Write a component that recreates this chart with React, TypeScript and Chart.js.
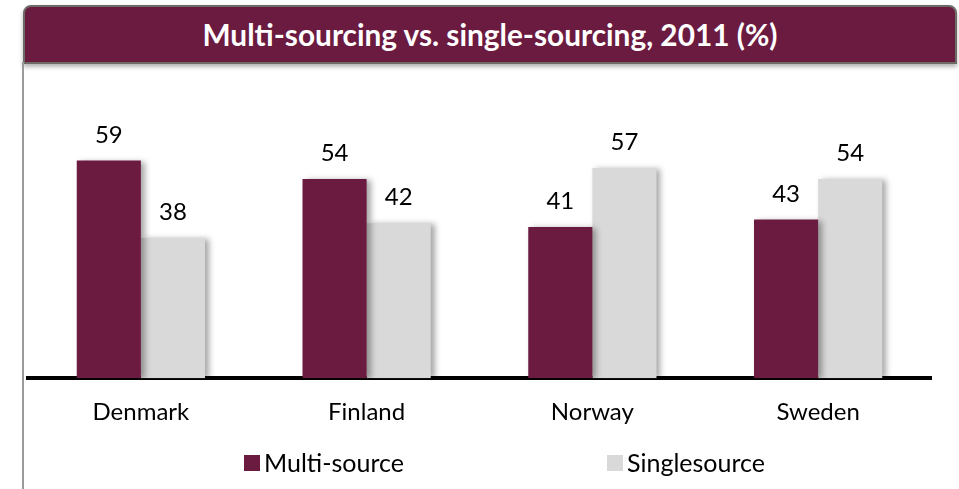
import React, { useEffect, useRef } from "react";
import { Chart, registerables } from "chart.js";

Chart.register(...registerables);

const categories = ["Denmark", "Finland", "Norway", "Sweden"];
const multiSource = [59, 54, 41, 43];
const singleSource = [38, 42, 57, 54];
const seriesNames = ["Multi-source", "Singlesource"];
const titleText = "Multi-sourcing vs. single-sourcing, 2011 (%)";

const MAROON = "#6B1A40";
const GRAY = "#D9D9D9";
const FONT = "Lato, 'Open Sans', sans-serif";

// legend item box positions (canvas coords) and vertical center
const LEGEND_X = [220, 583];
const LEGEND_CY = 399;

const shadowPlugin = {
  id: "barShadow",
  beforeDatasetsDraw(chart: any) {
    const ctx = chart.ctx;
    ctx.save();
    ctx.shadowColor = "rgba(0,0,0,0.35)";
    ctx.shadowBlur = 6;
    ctx.shadowOffsetX = 4;
    ctx.shadowOffsetY = 1;
  },
  afterDatasetsDraw(chart: any) {
    chart.ctx.restore();
  },
};

const valueLabelPlugin = {
  id: "valueLabels",
  afterDraw(chart: any) {
    const ctx = chart.ctx;
    ctx.save();
    ctx.font = `24px ${FONT}`;
    ctx.fillStyle = "#000";
    ctx.textAlign = "center";
    ctx.textBaseline = "alphabetic";
    chart.data.datasets.forEach((ds: any, i: number) => {
      const meta = chart.getDatasetMeta(i);
      meta.data.forEach((bar: any, j: number) => {
        ctx.fillText(String(ds.data[j]), bar.x, bar.y - 18);
      });
    });
    ctx.restore();
  },
};

const customLegendPlugin = {
  id: "customLegend",
  afterDraw(chart: any) {
    const ctx = chart.ctx;
    ctx.save();
    ctx.font = `25px ${FONT}`;
    ctx.textAlign = "left";
    ctx.textBaseline = "middle";
    chart.data.datasets.forEach((ds: any, i: number) => {
      const x = LEGEND_X[i];
      ctx.fillStyle = ds.backgroundColor;
      ctx.fillRect(x, LEGEND_CY - 8, 16, 16);
      ctx.fillStyle = "#000";
      ctx.fillText(ds.label, x + 20, LEGEND_CY + 1);
    });
    ctx.restore();
  },
};

export default function App() {
  const canvasRef = useRef<HTMLCanvasElement>(null);

  useEffect(() => {
    if (!canvasRef.current) return;
    const chart = new Chart(canvasRef.current, {
      type: "bar",
      data: {
        labels: categories,
        datasets: [
          { label: seriesNames[0], data: multiSource, backgroundColor: MAROON, borderWidth: 0 },
          { label: seriesNames[1], data: singleSource, backgroundColor: GRAY, borderWidth: 0 },
        ],
      },
      options: {
        animation: false,
        responsive: false,
        maintainAspectRatio: false,
        layout: { padding: { left: 4, right: 28, top: 56, bottom: 42 } },
        categoryPercentage: 0.568,
        barPercentage: 1.0,
        scales: {
          x: {
            grid: { display: false, drawTicks: false },
            border: { display: true, color: "#000", width: 4 },
            ticks: { color: "#000", font: { family: FONT, size: 24 }, padding: 20 },
          },
          y: {
            display: false,
            min: 0,
            max: 70,
          },
        },
        plugins: {
          legend: { display: false },
          tooltip: { enabled: false },
          title: { display: false },
        },
      } as any,
      plugins: [shadowPlugin, valueLabelPlugin, customLegendPlugin],
    });
    return () => chart.destroy();
  }, []);

  return (
    <div style={{ position: "absolute", left: 0, top: 0, width: 959, height: 489, background: "#fff", overflow: "hidden" }}>
      <div
        style={{
          position: "absolute",
          left: 23,
          top: 5,
          width: 930,
          height: 55,
          background: MAROON,
          border: "2px solid #6e6a66",
          borderRadius: "8px 8px 0 0",
          boxShadow: "0 3px 4px rgba(0,0,0,0.3)",
          color: "#fff",
          fontFamily: FONT,
          fontWeight: 700,
          fontSize: 29.8,
          display: "flex",
          alignItems: "center",
          justifyContent: "center",
        }}
      >
        {titleText}
      </div>
      <div style={{ position: "absolute", left: 22, top: 62, width: 2, height: 427, background: "#9a9a9a" }} />
      <canvas
        ref={canvasRef}
        width={935}
        height={425}
        style={{ position: "absolute", left: 24, top: 64, width: 935, height: 425 }}
      />
    </div>
  );
}
